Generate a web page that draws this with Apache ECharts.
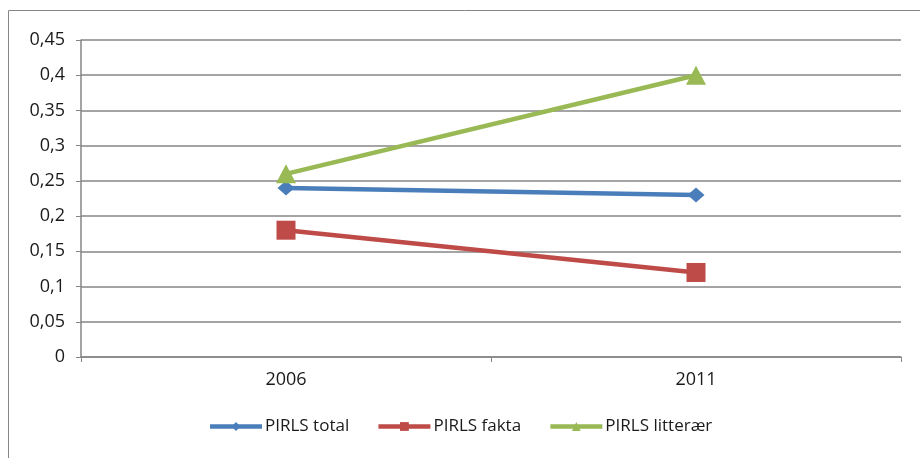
<!DOCTYPE html>
<html>
<head>
<meta charset="utf-8">
<script src="https://cdn.jsdelivr.net/npm/echarts@6/dist/echarts.min.js"></script>
<style>
  html, body { margin: 0; padding: 0; background: #fff; }
  #chart { width: 920px; height: 458px; }
</style>
</head>
<body>
<div id="chart"></div>
<script>
const years = ['2006', '2011']
const total = [0.24, 0.23]
const fakta = [0.18, 0.12]
const litteraer = [0.26, 0.40]

const fontFamily = '"Open Sans", "Noto Sans", sans-serif'
const gray = '#868686'
const ink = '#1a1a1a'

const chart = echarts.init(document.getElementById('chart'))
const option = {
  animation: false,
  textStyle: { fontFamily: fontFamily },
  graphic: [
    {
      type: 'rect',
      shape: { x: 8.5, y: 10.5, width: 1000, height: 1000 },
      style: { fill: 'none', stroke: gray, lineWidth: 1 }
    }
  ],
  grid: {
    left: 81,
    right: 19,
    top: 40,
    bottom: 101
  },
  legend: {
    bottom: 18,
    left: 'center',
    itemWidth: 52,
    itemHeight: 11,
    itemGap: 27,
    lineStyle: { width: 4.5 },
    textStyle: { fontSize: 17, color: ink, fontFamily: fontFamily, padding: [0, 0, 0, -2] },
    data: ['PIRLS total', 'PIRLS fakta', 'PIRLS litterær']
  },
  xAxis: {
    type: 'category',
    data: years,
    boundaryGap: true,
    axisLine: { lineStyle: { color: gray, width: 1.5 } },
    axisTick: { show: true, length: 5, lineStyle: { color: gray } },
    axisLabel: { fontSize: 18, color: ink, margin: 14 }
  },
  yAxis: {
    type: 'value',
    min: 0,
    max: 0.45,
    interval: 0.05,
    axisLine: { show: true, lineStyle: { color: gray, width: 1.5 } },
    axisTick: { show: true, length: 5, lineStyle: { color: gray } },
    splitLine: { show: true, lineStyle: { color: gray, width: 1.5 } },
    axisLabel: {
      fontSize: 18,
      color: ink,
      margin: 16,
      formatter: v => String(Math.round(v * 100) / 100).replace('.', ',')
    }
  },
  series: [
    {
      name: 'PIRLS total',
      type: 'line',
      data: total,
      symbol: 'diamond',
      symbolSize: [17, 15],
      lineStyle: { width: 4.5, color: '#4A7EBB' },
      itemStyle: { color: '#4A7EBB' }
    },
    {
      name: 'PIRLS fakta',
      type: 'line',
      data: fakta,
      symbol: 'rect',
      symbolSize: 19,
      lineStyle: { width: 4.5, color: '#BE4B48' },
      itemStyle: { color: '#BE4B48' }
    },
    {
      name: 'PIRLS litterær',
      type: 'line',
      data: litteraer,
      symbol: 'triangle',
      symbolSize: [20, 19],
      lineStyle: { width: 4.5, color: '#98B954' },
      itemStyle: { color: '#98B954' }
    }
  ]
}
chart.setOption(option)
</script>
</body>
</html>
